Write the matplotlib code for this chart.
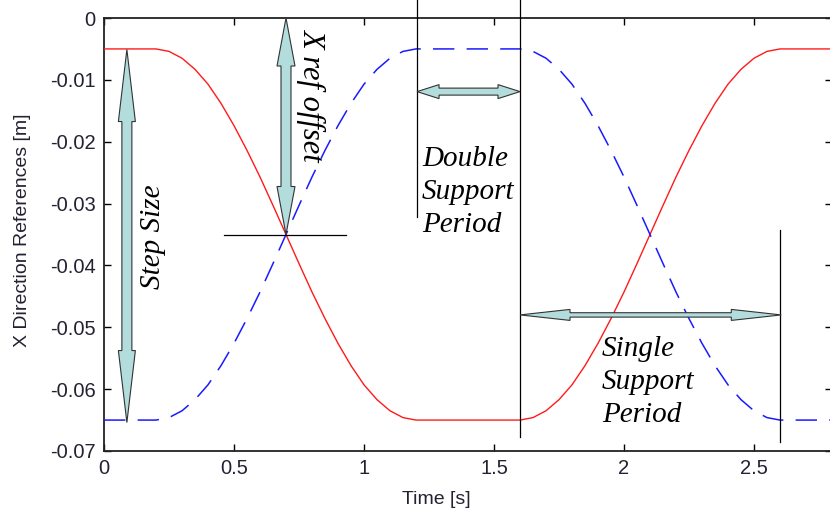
import matplotlib
matplotlib.use('Agg')
import matplotlib.pyplot as plt
import numpy as np
from matplotlib.patches import Polygon

# Time samples [s] and the two X direction reference curves [m]
time = [0.00, 0.05, 0.10, 0.15, 0.20, 0.25, 0.30, 0.35, 0.40, 0.45,
        0.50, 0.55, 0.60, 0.65, 0.70, 0.75, 0.80, 0.85, 0.90, 0.95,
        1.00, 1.05, 1.10, 1.15, 1.20, 1.25, 1.30, 1.35, 1.40, 1.45,
        1.50, 1.55, 1.60, 1.65, 1.70, 1.75, 1.80, 1.85, 1.90, 1.95,
        2.00, 2.05, 2.10, 2.15, 2.20, 2.25, 2.30, 2.35, 2.40, 2.45,
        2.50, 2.55, 2.60, 2.65, 2.70, 2.75, 2.80]

red_ref = [-0.0050, -0.0050, -0.0050, -0.0050, -0.0050, -0.0054, -0.0065, -0.0083, -0.0107, -0.0138,
           -0.0174, -0.0214, -0.0257, -0.0303, -0.0350, -0.0397, -0.0443, -0.0486, -0.0526, -0.0562,
           -0.0593, -0.0617, -0.0635, -0.0646, -0.0650, -0.0650, -0.0650, -0.0650, -0.0650, -0.0650,
           -0.0650, -0.0650, -0.0650, -0.0646, -0.0635, -0.0617, -0.0593, -0.0562, -0.0526, -0.0486,
           -0.0443, -0.0397, -0.0350, -0.0303, -0.0257, -0.0214, -0.0174, -0.0138, -0.0107, -0.0083,
           -0.0065, -0.0054, -0.0050, -0.0050, -0.0050, -0.0050, -0.0050]

blue_ref = [-0.0650, -0.0650, -0.0650, -0.0650, -0.0650, -0.0646, -0.0635, -0.0617, -0.0593, -0.0562,
            -0.0526, -0.0486, -0.0443, -0.0397, -0.0350, -0.0303, -0.0257, -0.0214, -0.0174, -0.0138,
            -0.0107, -0.0083, -0.0065, -0.0054, -0.0050, -0.0050, -0.0050, -0.0050, -0.0050, -0.0050,
            -0.0050, -0.0050, -0.0050, -0.0054, -0.0065, -0.0083, -0.0107, -0.0138, -0.0174, -0.0214,
            -0.0257, -0.0303, -0.0350, -0.0397, -0.0443, -0.0486, -0.0526, -0.0562, -0.0593, -0.0617,
            -0.0635, -0.0646, -0.0650, -0.0650, -0.0650, -0.0650, -0.0650]

x_ticks = [0, 0.5, 1, 1.5, 2, 2.5]
x_tick_labels = ['0', '0.5', '1', '1.5', '2', '2.5']
y_ticks = [0, -0.01, -0.02, -0.03, -0.04, -0.05, -0.06, -0.07]
y_tick_labels = ['0', '-0.01', '-0.02', '-0.03', '-0.04', '-0.05', '-0.06', '-0.07']

ARROW_FC = '#b3dcdc'
ARROW_EC = '#333333'
SERIF = 'Liberation Serif'
SANS = 'Liberation Sans'


def double_arrow(ax, p0, p1, shaft, head_w, head_len):
    # sizes in pixels, end points in data coords
    a = ax.transData.transform(p0)
    b = ax.transData.transform(p1)
    d = b - a
    u = d / np.hypot(*d)
    n = np.array([-u[1], u[0]])
    pts = [a,
           a + u * head_len + n * head_w,
           a + u * head_len + n * shaft,
           b - u * head_len + n * shaft,
           b - u * head_len + n * head_w,
           b,
           b - u * head_len - n * head_w,
           b - u * head_len - n * shaft,
           a + u * head_len - n * shaft,
           a + u * head_len - n * head_w]
    poly = Polygon(ax.transData.inverted().transform(pts), closed=True,
                   fc=ARROW_FC, ec=ARROW_EC, lw=0.8, clip_on=False, zorder=5)
    ax.add_patch(poly)


fig = plt.figure(figsize=(8.3, 5.16), dpi=100)
ax = fig.add_axes([104 / 830, 65 / 516, 728 / 830, 433 / 516])

ax.plot(time, red_ref, color='#ff1a1a', lw=1.0, zorder=3)
line, = ax.plot(time, blue_ref, color='#1a1aff', lw=1.1, zorder=3)
line.set_dashes((14, 8))

ax.set_xlim(0, 2.8)
ax.set_ylim(-0.07, 0)
ax.set_xticks(x_ticks)
ax.set_xticklabels(x_tick_labels)
ax.set_yticks(y_ticks)
ax.set_yticklabels(y_tick_labels)
ax.tick_params(direction='in', length=5, width=1, top=True, right=True,
               labelsize=14.5, labelcolor='#222233', pad=6)
for lab in ax.get_xticklabels() + ax.get_yticklabels():
    lab.set_family(SANS)
for s in ax.spines.values():
    s.set_linewidth(1.3)
    s.set_color('#222222')

ax.set_xlabel('Time [s]', fontsize=14, family=SANS, color='#222233')
ax.xaxis.set_label_coords(0.456, -0.093)
ax.set_ylabel('X Direction References [m]', fontsize=14, family=SANS, color='#222233')
ax.yaxis.set_label_coords(-0.10, 0.51)

# guide lines
ax.plot([0.46, 0.93], [-0.035, -0.035], color='black', lw=0.9, zorder=4)
ax.plot([1.204, 1.204], [0.0029, -0.0321], color='black', lw=0.9, clip_on=False, zorder=4)
ax.plot([1.6, 1.6], [0.0029, -0.0677], color='black', lw=0.9, clip_on=False, zorder=4)
ax.plot([2.6, 2.6], [-0.0342, -0.0685], color='black', lw=0.9, clip_on=False, zorder=4)

# arrows
double_arrow(ax, (0.088, -0.0051), (0.088, -0.0654), 5, 8.5, 72)
double_arrow(ax, (0.70, 0.0), (0.70, -0.035), 5, 9, 48)
double_arrow(ax, (1.204, -0.0119), (1.6, -0.0119), 3.5, 7, 22)
double_arrow(ax, (1.6, -0.048), (2.605, -0.048), 2.2, 5.5, 50)

# labels
ax.text(0.19, -0.0354, 'Step Size', rotation=90, ha='center', va='center',
        fontsize=21, family=SERIF, style='italic', zorder=6)
ax.text(0.80, -0.0124, 'X ref offset', rotation=-90, ha='center', va='center',
        fontsize=22, family=SERIF, style='italic', zorder=6)
ax.text(1.223, -0.0282, 'Double\nSupport\nPeriod', ha='left', va='center',
        fontsize=21, family=SERIF, style='italic', linespacing=1.35, zorder=6)
ax.text(1.915, -0.0588, 'Single\nSupport\nPeriod', ha='left', va='center',
        fontsize=21, family=SERIF, style='italic', linespacing=1.35, zorder=6)

fig.savefig('out.png', dpi=100)
